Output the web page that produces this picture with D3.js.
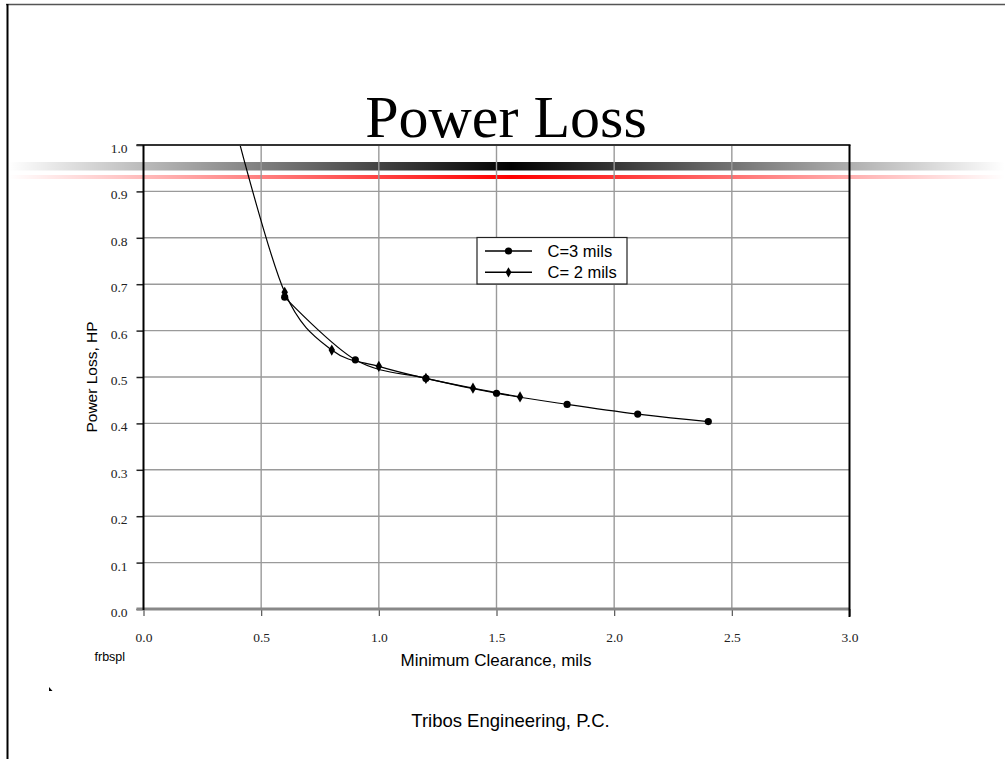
<!DOCTYPE html>
<html>
<head>
<meta charset="utf-8">
<script src="https://cdn.jsdelivr.net/npm/d3@7"></script>
<style>
  body { margin: 0; background: #fff; }
  svg { display: block; }
</style>
</head>
<body>
<div id="chart"></div>
<script>
// clearance (mils) and power loss (HP)
const c3Clearance = [0.6, 0.9, 1.2, 1.5, 1.8, 2.1, 2.4];
const c3Loss = [0.672, 0.537, 0.497, 0.465, 0.441, 0.420, 0.404];
const c2Clearance = [0.4, 0.6, 0.8, 1.0, 1.2, 1.4, 1.6];
const c2Loss = [1.02, 0.6825, 0.558, 0.523, 0.497, 0.476, 0.457];
const seriesNames = ["C=3 mils", "C= 2 mils"];
const xTicks = [0.0, 0.5, 1.0, 1.5, 2.0, 2.5, 3.0];
const yTicks = [0.0, 0.1, 0.2, 0.3, 0.4, 0.5, 0.6, 0.7, 0.8, 0.9, 1.0];

const W = 1005, H = 759;
const serif = "'Liberation Serif', 'Times New Roman', serif";
const sans = "'Liberation Sans', Arial, sans-serif";

const svg = d3.select("#chart").append("svg")
  .attr("width", W)
  .attr("height", H);

const defs = svg.append("defs");

// slide frame
svg.append("line")
  .attr("x1", 6).attr("x2", W).attr("y1", 4.5).attr("y2", 4.5)
  .attr("stroke", "#555").attr("stroke-width", 1.5);
svg.append("line")
  .attr("x1", 7.5).attr("x2", 7.5).attr("y1", 4).attr("y2", H)
  .attr("stroke", "#000").attr("stroke-width", 2);

// title
svg.append("text")
  .attr("x", 506).attr("y", 137)
  .attr("text-anchor", "middle")
  .style("font-family", serif)
  .style("font-size", "60px")
  .text("Power Loss");

// gradient bars under the title
function barGradient(id, color) {
  const g = defs.append("linearGradient").attr("id", id)
    .attr("x1", "0%").attr("x2", "100%");
  g.append("stop").attr("offset", "0%").attr("stop-color", color).attr("stop-opacity", 0);
  g.append("stop").attr("offset", "50.5%").attr("stop-color", color).attr("stop-opacity", 1);
  g.append("stop").attr("offset", "100%").attr("stop-color", color).attr("stop-opacity", 0);
}
barGradient("grayBar", "#000");
barGradient("redBar", "#ff0000");
svg.append("rect")
  .attr("x", 8).attr("y", 162).attr("width", 997).attr("height", 8.5)
  .attr("fill", "url(#grayBar)");
svg.append("rect")
  .attr("x", 8).attr("y", 175).attr("width", 997).attr("height", 4)
  .attr("fill", "url(#redBar)");

// scales
const x = d3.scaleLinear().domain([0, 3]).range([143.5, 849.5]);
const y = d3.scaleLinear().domain([0, 1]).range([609, 145]);

// grid
svg.append("g")
  .selectAll("line")
  .data(yTicks.filter((d) => d > 0 && d < 1))
  .enter()
  .append("line")
  .attr("x1", x(0)).attr("x2", x(3))
  .attr("y1", (d) => y(d)).attr("y2", (d) => y(d))
  .attr("stroke", "#9a9a9a").attr("stroke-width", 1.4);
svg.append("g")
  .selectAll("line")
  .data(xTicks.filter((d) => d > 0 && d < 3))
  .enter()
  .append("line")
  .attr("x1", (d) => x(d)).attr("x2", (d) => x(d))
  .attr("y1", y(1)).attr("y2", y(0))
  .attr("stroke", "#9a9a9a").attr("stroke-width", 1.4);

// axes
const yAxis = svg.append("g")
  .attr("transform", "translate(" + x(0) + ",0)")
  .call(d3.axisLeft(y).tickValues(yTicks).tickFormat(d3.format(".1f"))
    .tickSize(7).tickPadding(9));
yAxis.select(".domain").remove();
yAxis.selectAll("line").attr("stroke", "#222").attr("stroke-width", 1.5);
yAxis.selectAll("text")
  .attr("dy", "0.55em")
  .style("font-family", serif)
  .style("font-size", "13.5px")
  .attr("fill", "#222");

const xAxis = svg.append("g")
  .attr("transform", "translate(0," + y(0) + ")")
  .call(d3.axisBottom(x).tickValues(xTicks).tickFormat(d3.format(".1f"))
    .tickSize(7).tickPadding(16));
xAxis.select(".domain").remove();
xAxis.selectAll("line").attr("stroke", "#555").attr("stroke-width", 1.2);
xAxis.selectAll("text")
  .style("font-family", serif)
  .style("font-size", "13.5px")
  .attr("fill", "#222");

// plot borders
svg.append("line")
  .attr("x1", x(0) - 7).attr("x2", x(3)).attr("y1", y(0)).attr("y2", y(0))
  .attr("stroke", "#888").attr("stroke-width", 3);
svg.append("line")
  .attr("x1", x(0) - 7).attr("x2", x(3) + 1).attr("y1", y(1)).attr("y2", y(1))
  .attr("stroke", "#333").attr("stroke-width", 2.2);
svg.append("line")
  .attr("x1", x(0)).attr("x2", x(0)).attr("y1", y(1)).attr("y2", y(0) + 1)
  .attr("stroke", "#000").attr("stroke-width", 2);
svg.append("line")
  .attr("x1", x(3)).attr("x2", x(3)).attr("y1", y(1)).attr("y2", y(0) + 8)
  .attr("stroke", "#000").attr("stroke-width", 2);

// series
defs.append("clipPath").attr("id", "plotClip")
  .append("rect")
  .attr("x", x(0)).attr("y", y(1) + 1)
  .attr("width", x(3) - x(0)).attr("height", y(0) - y(1));

const plot = svg.append("g").attr("clip-path", "url(#plotClip)");
const line = d3.line()
  .x((d) => x(d[0]))
  .y((d) => y(d[1]))
  .curve(d3.curveCatmullRom.alpha(0));

const c3 = c3Clearance.map((c, i) => [c, c3Loss[i]]);
const c2 = c2Clearance.map((c, i) => [c, c2Loss[i]]);

plot.append("path").datum(c2).attr("d", line)
  .attr("fill", "none").attr("stroke", "#000").attr("stroke-width", 1.2);
plot.append("path").datum(c3).attr("d", line)
  .attr("fill", "none").attr("stroke", "#000").attr("stroke-width", 1.2);

const diamond = d3.symbol().type(d3.symbolDiamond).size(36);
plot.selectAll(".c2-mark")
  .data(c2)
  .enter()
  .append("path")
  .attr("class", "c2-mark")
  .attr("d", diamond)
  .attr("transform", (d) => "translate(" + x(d[0]) + "," + y(d[1]) + ")")
  .attr("fill", "#000");
plot.selectAll(".c3-mark")
  .data(c3)
  .enter()
  .append("circle")
  .attr("class", "c3-mark")
  .attr("cx", (d) => x(d[0]))
  .attr("cy", (d) => y(d[1]))
  .attr("r", 3.6)
  .attr("fill", "#000");

// legend
const legend = svg.append("g");
legend.append("rect")
  .attr("x", 477).attr("y", 237.5).attr("width", 150).attr("height", 46.5)
  .attr("fill", "#fff").attr("stroke", "#222").attr("stroke-width", 1.2);
seriesNames.forEach((name, i) => {
  const ly = 251 + i * 21.3;
  legend.append("line")
    .attr("x1", 485).attr("x2", 532).attr("y1", ly).attr("y2", ly)
    .attr("stroke", "#000").attr("stroke-width", 1.5);
  if (i === 0) {
    legend.append("circle").attr("cx", 508.5).attr("cy", ly).attr("r", 3.6).attr("fill", "#000");
  } else {
    legend.append("path").attr("d", d3.symbol().type(d3.symbolDiamond).size(30))
      .attr("transform", "translate(508.5," + ly + ")").attr("fill", "#000");
  }
  legend.append("text")
    .attr("x", 547.5).attr("y", ly + 5.5)
    .style("font-family", sans)
    .style("font-size", "16.5px")
    .text(name);
});

// axis titles and notes
svg.append("text")
  .attr("transform", "translate(97,377) rotate(-90)")
  .attr("text-anchor", "middle")
  .style("font-family", sans)
  .style("font-size", "15.5px")
  .text("Power Loss, HP");

svg.append("text")
  .attr("x", 496).attr("y", 666)
  .attr("text-anchor", "middle")
  .style("font-family", sans)
  .style("font-size", "17px")
  .text("Minimum Clearance, mils");

svg.append("text")
  .attr("x", 94.5).attr("y", 661)
  .style("font-family", sans)
  .style("font-size", "12.5px")
  .text("frbspl");

svg.append("text")
  .attr("x", 510.5).attr("y", 727)
  .attr("text-anchor", "middle")
  .style("font-family", sans)
  .style("font-size", "18.5px")
  .text("Tribos Engineering, P.C.");

// stray pointer mark
svg.append("path")
  .attr("d", "M49,687 L49,691 L52.5,691 Z")
  .attr("fill", "#000");
</script>
</body>
</html>
